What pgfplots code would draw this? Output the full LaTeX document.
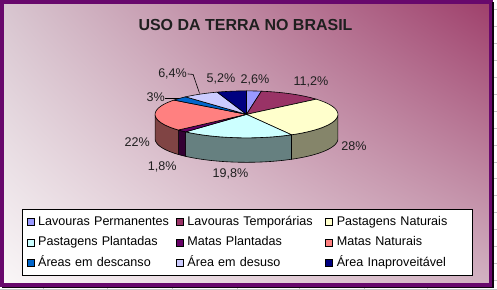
\documentclass[border=0pt]{standalone}
\usepackage{fontspec}
\setmainfont{Liberation Sans}
\usepackage{pgfplots}
\usepackage{pgfplotstable}
\usetikzlibrary{shadings}
\pgfplotsset{compat=1.18}

\definecolor{cLP}{HTML}{9999FF}
\definecolor{cLT}{HTML}{993366}
\definecolor{cPN}{HTML}{FFFFCC}
\definecolor{cPP}{HTML}{CCFFFF}
\definecolor{cMP}{HTML}{660066}
\definecolor{cMN}{HTML}{FF8080}
\definecolor{cAD}{HTML}{0066CC}
\definecolor{cADs}{HTML}{CCCCFF}
\definecolor{cAI}{HTML}{000080}
\definecolor{sPN}{HTML}{85856A}
\definecolor{sPP}{HTML}{668080}
\definecolor{sMP}{HTML}{330033}
\definecolor{sMN}{HTML}{804444}
\definecolor{bgUL}{RGB}{216,198,208}
\definecolor{bgUR}{RGB}{158,62,106}
\definecolor{bgLL}{RGB}{250,247,248}
\definecolor{bgLR}{RGB}{210,178,194}
\definecolor{frame}{RGB}{104,8,108}

% percentages, clockwise from 12 o'clock
\pgfplotstableread{
pct
2.6
11.2
28
19.8
1.8
22
3
6.4
5.2
}\piedata

\pgfplotstablegetelem{0}{pct}\of\piedata\let\pA\pgfplotsretval
\pgfplotstablegetelem{1}{pct}\of\piedata\let\pB\pgfplotsretval
\pgfplotstablegetelem{2}{pct}\of\piedata\let\pC\pgfplotsretval
\pgfplotstablegetelem{3}{pct}\of\piedata\let\pD\pgfplotsretval
\pgfplotstablegetelem{4}{pct}\of\piedata\let\pE\pgfplotsretval
\pgfplotstablegetelem{5}{pct}\of\piedata\let\pF\pgfplotsretval
\pgfplotstablegetelem{6}{pct}\of\piedata\let\pG\pgfplotsretval
\pgfplotstablegetelem{7}{pct}\of\piedata\let\pH\pgfplotsretval
\pgfplotstablegetelem{8}{pct}\of\piedata\let\pI\pgfplotsretval
\pgfmathsetmacro\bA{3.6*\pA}
\pgfmathsetmacro\bB{\bA+3.6*\pB}
\pgfmathsetmacro\bC{\bB+3.6*\pC}
\pgfmathsetmacro\bD{\bC+3.6*\pD}
\pgfmathsetmacro\bE{\bD+3.6*\pE}
\pgfmathsetmacro\bF{\bE+3.6*\pF}
\pgfmathsetmacro\bG{\bF+3.6*\pG}
\pgfmathsetmacro\bH{\bG+3.6*\pH}
\pgfmathsetmacro\bI{\bH+3.6*\pI}

\def\cx{246.5}
\def\cy{114.5}
\def\rx{91.5}
\def\ry{23.5}
\def\th{24.5}

\pgfplotsset{
  topslice/.style={draw=black, line width=0.6bp, samples=60},
  sideslice/.style={draw=black, line width=0.6bp, domain=0:3, samples=121, forget plot},
}

\begin{document}%
\begin{tikzpicture}
\begin{axis}[
  width=497bp, height=290bp, scale only axis,
  xmin=0, xmax=497, ymin=0, ymax=290, y dir=reverse,
  axis lines=none, clip=false,
  legend columns=3,
  legend cell align=left,
  legend image code/.code={\draw[#1, draw=black, line width=0.5bp] (0bp,-3.5bp) rectangle (7bp,3.5bp);},
  legend style={at={(axis cs:21.5,209.5)}, anchor=north west, draw=black, fill=white,
    line width=0.8bp, inner xsep=4.5bp, inner ysep=6.5bp,
    font=\fontsize{12.6bp}{15bp}\selectfont,
    nodes={inner sep=0pt, text width=131bp, align=left, text height=9bp, text depth=2.5bp},
    /tikz/every odd column/.append style={column sep=4bp},
    /tikz/every even column/.append style={column sep=7bp},
    row sep=9bp},
]
% background
\fill[white] (axis cs:0,0) rectangle (axis cs:497,290);
\pgfplotsinvokeforeach{9,26,43,60,77,94,111,128,145,162,179,196,213,230,247,264,281}{
  \draw[gray!45, line width=0.6bp] (axis cs:494,#1) -- (axis cs:497,#1);}
\pgfplotsinvokeforeach{43,107,172,237,299,364,428}{
  \draw[gray!45, line width=0.6bp] (axis cs:#1,288) -- (axis cs:#1,290);}
\draw[gray!45, line width=0.6bp] (axis cs:0,289.3) -- (axis cs:497,289.3);
\shade[upper left=bgUL, upper right=bgUR, lower left=bgLL, lower right=bgLR]
  (axis cs:0,0) rectangle (axis cs:493,287);
\draw[line width=3.6bp, frame] (axis cs:1.8,1.8) rectangle (axis cs:491.2,285.2);
\draw[line width=1.3bp, black!85!frame] (axis cs:493.3,2) -- (axis cs:493.3,287.7) -- (axis cs:2,287.7);

% side faces (front half)
\addplot[sideslice, fill=sPN] ({\cx+\rx*sin(90+(\bC-90)*min(x,1,3-x))}, {\cy-\ry*cos(90+(\bC-90)*min(x,1,3-x))+\th*min(max(x-1,0),1)}) -- cycle;
\addplot[sideslice, fill=sPP] ({\cx+\rx*sin(\bC+(\bD-\bC)*min(x,1,3-x))}, {\cy-\ry*cos(\bC+(\bD-\bC)*min(x,1,3-x))+\th*min(max(x-1,0),1)}) -- cycle;
\addplot[sideslice, fill=sMP] ({\cx+\rx*sin(\bD+(\bE-\bD)*min(x,1,3-x))}, {\cy-\ry*cos(\bD+(\bE-\bD)*min(x,1,3-x))+\th*min(max(x-1,0),1)}) -- cycle;
\addplot[sideslice, fill=sMN] ({\cx+\rx*sin(\bE+(270-\bE)*min(x,1,3-x))}, {\cy-\ry*cos(\bE+(270-\bE)*min(x,1,3-x))+\th*min(max(x-1,0),1)}) -- cycle;

% top faces
\addplot[topslice, fill=cLP, domain=0:\bA] ({\cx+\rx*sin(x)},{\cy-\ry*cos(x)}) -- (axis cs:\cx,\cy) -- cycle;
\addlegendentry{\mbox{Lavouras Permanentes}}
\addplot[topslice, fill=cLT, domain=\bA:\bB] ({\cx+\rx*sin(x)},{\cy-\ry*cos(x)}) -- (axis cs:\cx,\cy) -- cycle;
\addlegendentry{\mbox{Lavouras Temporárias}}
\addplot[topslice, fill=cPN, domain=\bB:\bC] ({\cx+\rx*sin(x)},{\cy-\ry*cos(x)}) -- (axis cs:\cx,\cy) -- cycle;
\addlegendentry{\mbox{Pastagens Naturais}}
\addplot[topslice, fill=cPP, domain=\bC:\bD] ({\cx+\rx*sin(x)},{\cy-\ry*cos(x)}) -- (axis cs:\cx,\cy) -- cycle;
\addlegendentry{\mbox{Pastagens Plantadas}}
\addplot[topslice, fill=cMP, domain=\bD:\bE] ({\cx+\rx*sin(x)},{\cy-\ry*cos(x)}) -- (axis cs:\cx,\cy) -- cycle;
\addlegendentry{\mbox{Matas Plantadas}}
\addplot[topslice, fill=cMN, domain=\bE:\bF] ({\cx+\rx*sin(x)},{\cy-\ry*cos(x)}) -- (axis cs:\cx,\cy) -- cycle;
\addlegendentry{\mbox{Matas Naturais}}
\addplot[topslice, fill=cAD, domain=\bF:\bG] ({\cx+\rx*sin(x)},{\cy-\ry*cos(x)}) -- (axis cs:\cx,\cy) -- cycle;
\addlegendentry{\mbox{Áreas em descanso}}
\addplot[topslice, fill=cADs, domain=\bG:\bH] ({\cx+\rx*sin(x)},{\cy-\ry*cos(x)}) -- (axis cs:\cx,\cy) -- cycle;
\addlegendentry{\mbox{Área em desuso}}
\addplot[topslice, fill=cAI, domain=\bH:\bI] ({\cx+\rx*sin(x)},{\cy-\ry*cos(x)}) -- (axis cs:\cx,\cy) -- cycle;
\addlegendentry{\mbox{Área Inaproveitável}}

% leader lines
\addplot[black, line width=0.6bp, forget plot] coordinates {(165,98.5) (179,98.5)};
\addplot[black, line width=0.6bp, forget plot] coordinates {(187.5,74) (193,74.5) (199.5,93.5)};

% title and labels
\node[font=\fontsize{16bp}{19bp}\selectfont\bfseries, text=black!88] at (axis cs:245.5,25.2) {USO DA TERRA NO BRASIL};
\begin{scope}[every node/.style={font=\fontsize{12.6bp}{15bp}\selectfont, text=black!88, inner sep=0pt}]
\node at (axis cs:255,80.5) {2,6\%};
\node at (axis cs:311,82.5) {11,2\%};
\node at (axis cs:354,146) {28\%};
\node at (axis cs:230.5,174.5) {19,8\%};
\node at (axis cs:162,167.5) {1,8\%};
\node at (axis cs:137,142) {22\%};
\node at (axis cs:155.5,97.5) {3\%};
\node at (axis cs:172.5,73.5) {6,4\%};
\node at (axis cs:221,79.5) {5,2\%};
\end{scope}
\end{axis}
\end{tikzpicture}%
\end{document}
